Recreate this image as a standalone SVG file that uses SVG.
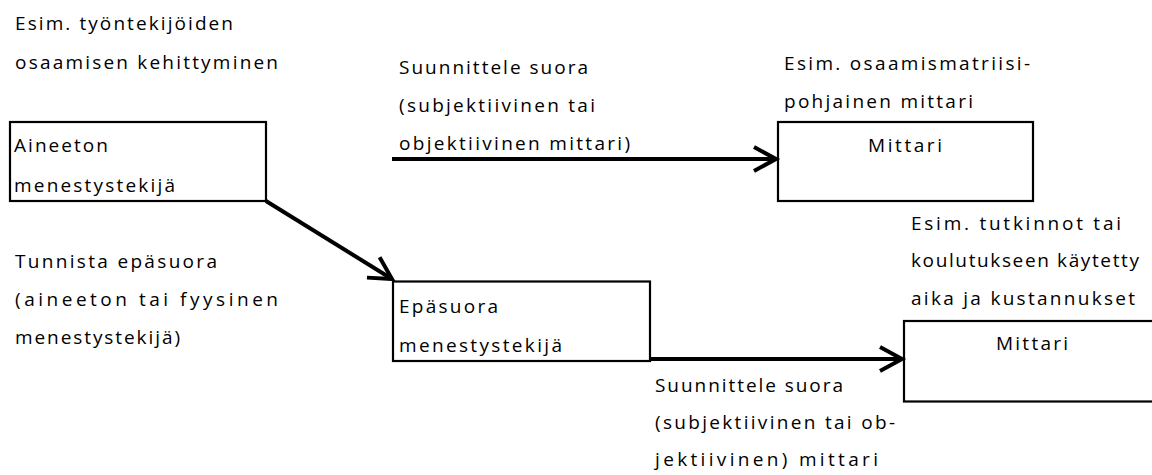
<svg xmlns="http://www.w3.org/2000/svg" width="1152" height="475" viewBox="0 0 1152 475">
  <style>
    text { font-family: "Open Sans", "Noto Sans", "Liberation Sans", sans-serif; font-size: 19px; fill: #000; }
    .box { fill: #fff; stroke: #000; stroke-width: 2.2; }
    .conn { fill: none; stroke: #000; stroke-width: 4; }
  </style>
  <defs>
    <marker id="chev" markerUnits="userSpaceOnUse" markerWidth="40" markerHeight="40" viewBox="-30 -20 40 40" refX="0" refY="0" orient="auto">
      <path d="M -22,-12 L 0,0 L -22,12" fill="none" stroke="#000" stroke-width="4" stroke-linejoin="miter"/>
    </marker>
  </defs>

  <!-- free-standing notes -->
  <g id="note-example-skills">
    <text x="15" y="30" textLength="218" lengthAdjust="spacing">Esim. työntekijöiden</text>
    <text x="15" y="68.5" textLength="263" lengthAdjust="spacing">osaamisen kehittyminen</text>
  </g>
  <g id="note-design-direct-top">
    <text x="399" y="74" textLength="189" lengthAdjust="spacing">Suunnittele suora</text>
    <text x="399" y="112" textLength="196" lengthAdjust="spacing">(subjektiivinen tai</text>
    <text x="399" y="149.5" textLength="231" lengthAdjust="spacing">objektiivinen mittari)</text>
  </g>
  <g id="note-example-matrix">
    <text x="784" y="70" textLength="246" lengthAdjust="spacing">Esim. osaamismatriisi-</text>
    <text x="784" y="108" textLength="189" lengthAdjust="spacing">pohjainen mittari</text>
  </g>
  <g id="note-identify-indirect">
    <text x="15" y="268" textLength="202" lengthAdjust="spacing">Tunnista epäsuora</text>
    <text x="15" y="306" textLength="263" lengthAdjust="spacing">(aineeton tai fyysinen</text>
    <text x="15" y="344" textLength="165" lengthAdjust="spacing">menestystekijä)</text>
  </g>
  <g id="note-example-degrees">
    <text x="911" y="230" textLength="210" lengthAdjust="spacing">Esim. tutkinnot tai</text>
    <text x="911" y="267" textLength="228" lengthAdjust="spacing">koulutukseen käytetty</text>
    <text x="911" y="304.5" textLength="224" lengthAdjust="spacing">aika ja kustannukset</text>
  </g>
  <g id="note-design-direct-bottom">
    <text x="655" y="391.5" textLength="188" lengthAdjust="spacing">Suunnittele suora</text>
    <text x="655" y="429" textLength="240" lengthAdjust="spacing">(subjektiivinen tai ob-</text>
    <text x="655" y="466" textLength="223" lengthAdjust="spacing">jektiivinen) mittari</text>
  </g>

  <!-- nodes -->
  <g id="node-intangible">
    <rect class="box" x="10" y="122" width="256" height="79"/>
    <text x="14" y="151.5" textLength="94" lengthAdjust="spacing">Aineeton</text>
    <text x="14" y="191.5" textLength="161" lengthAdjust="spacing">menestystekijä</text>
  </g>
  <g id="node-indirect">
    <rect class="box" x="393" y="281.5" width="257" height="79.5"/>
    <text x="399" y="312.5" textLength="99" lengthAdjust="spacing">Epäsuora</text>
    <text x="399" y="351.5" textLength="163" lengthAdjust="spacing">menestystekijä</text>
  </g>
  <g id="node-meter-top">
    <rect class="box" x="778" y="122" width="255" height="79"/>
    <text x="868" y="151.5" textLength="74" lengthAdjust="spacing">Mittari</text>
  </g>
  <g id="node-meter-bottom">
    <rect class="box" x="904" y="321" width="270" height="80.5"/>
    <text x="996" y="350" textLength="72" lengthAdjust="spacing">Mittari</text>
  </g>

  <!-- connectors -->
  <g id="connectors">
    <line class="conn" x1="266" y1="201" x2="392" y2="279" marker-end="url(#chev)"/>
    <line class="conn" x1="392" y1="159" x2="776" y2="159" marker-end="url(#chev)"/>
    <line class="conn" x1="650" y1="359" x2="902" y2="359" marker-end="url(#chev)"/>
  </g>
</svg>
